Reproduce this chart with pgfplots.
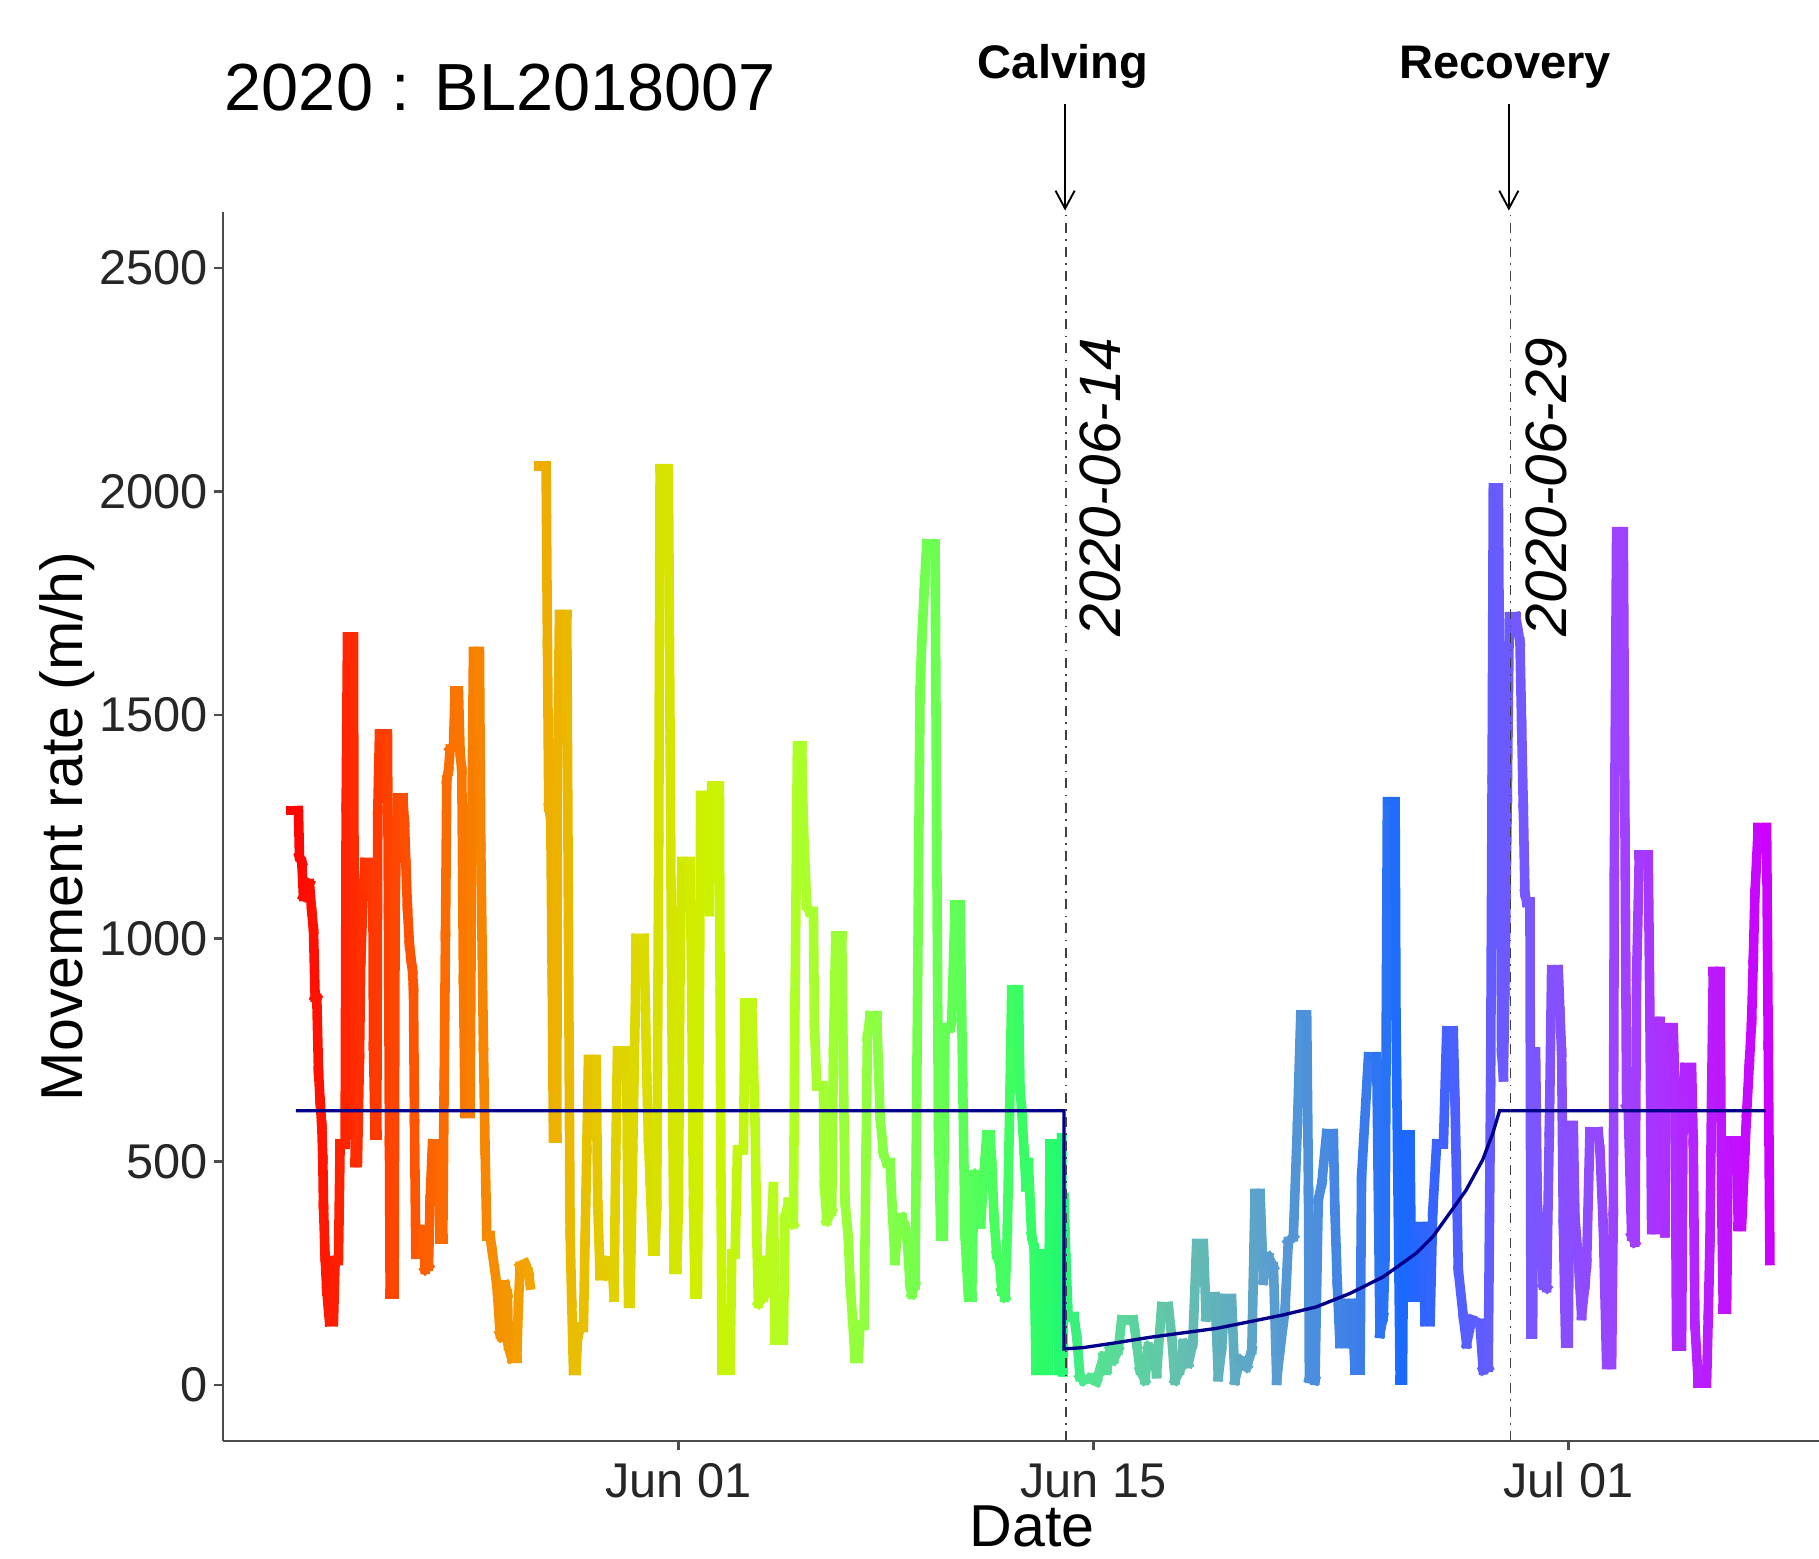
\documentclass[border=0pt]{standalone}
\usepackage{fontspec}
\setmainfont{Liberation Sans}
\usepackage{pgfplots}
\pgfplotsset{compat=1.18}
\usetikzlibrary{arrows.meta}
\pgfplotsset{colormap={rb}{
 rgb255(0pt)=(255,0,0); rgb255(3.1pt)=(255,60,0); rgb255(5.1pt)=(252,105,0);
 rgb255(8.1pt)=(242,165,0); rgb255(11.1pt)=(225,210,0); rgb255(14.1pt)=(205,242,0);
 rgb255(17.1pt)=(175,255,40); rgb255(20.1pt)=(135,255,70); rgb255(23.1pt)=(85,255,90);
 rgb255(26.0pt)=(35,250,110); rgb255(27.1pt)=(85,228,145); rgb255(30.1pt)=(100,192,175);
 rgb255(33.1pt)=(90,158,208); rgb255(36.1pt)=(60,125,235); rgb255(37.6pt)=(25,105,255);
 rgb255(39.6pt)=(85,95,255); rgb255(41.6pt)=(118,88,255); rgb255(45.1pt)=(160,65,255);
 rgb255(49.9pt)=(205,0,255)}}
\begin{document}
\begin{tikzpicture}
\begin{axis}[
  at={(0,0)}, anchor=south west,
  scale only axis, width=383.04pt, height=294.9pt,
  xmin=-15.35, xmax=38.45, ymin=-125, ymax=2625,
  axis lines*=left,
  axis line style={black!70, line width=0.6pt},
  tick style={black!70, line width=0.6pt},
  tick align=outside, major tick length=2.25pt,
  xtick={0,14,30}, xticklabels={Jun 01,Jun 15,Jul 01},
  ytick={0,500,1000,1500,2000,2500}, yticklabels={0,500,1000,1500,2000,2500},
  tick label style={font=\fontsize{11.7}{14}\selectfont, text=black!85},
  yticklabel style={anchor=east, inner sep=0pt, xshift=-1.2pt},
  xticklabel style={anchor=base, inner sep=0pt, yshift=-11.4pt},
  point meta min=-13.1, point meta max=36.8,
  colormap name=rb,
  clip=false,
]
\addplot[mesh, point meta=x, line width=2.3pt, line cap=rect] table {
-13.064 1286
-12.806 1286
-12.772 1183
-12.694 1170
-12.638 1094
-12.435 1122
-12.357 1060
-12.300 1019
-12.244 868
-12.188 866
-12.132 704
-12.076 635
-12.020 581
-11.986 505
-11.963 402
-11.907 286
-11.851 211
-11.761 142
-11.626 142
-11.570 279
-11.458 279
-11.402 540
-11.233 540
-11.199 1293
-11.154 1674
-10.952 1674
-10.930 1081
-10.896 498
-10.817 498
-10.750 731
-10.705 951
-10.615 1115
-10.559 1170
-10.301 1170
-10.278 759
-10.222 560
-10.166 560
-10.132 1286
-10.076 1457
-9.806 1457
-9.773 1067
-9.739 546
-9.716 204
-9.582 204
-9.548 1067
-9.514 1190
-9.469 1314
-9.289 1314
-9.233 1259
-9.188 1170
-9.132 1067
-9.065 985
-9.009 951
-8.964 930
-8.930 889
-8.896 594
-8.851 293
-8.649 293
-8.593 348
-8.537 259
-8.424 266
-8.368 416
-8.290 540
-8.087 540
-8.031 327
-7.941 327
-7.896 670
-7.851 1005
-7.806 1355
-7.750 1375
-7.694 1423
-7.582 1430
-7.526 1553
-7.413 1553
-7.357 1416
-7.301 1375
-7.245 909
-7.189 608
-7.020 608
-6.964 1238
-6.908 1642
-6.705 1642
-6.660 1204
-6.571 759
-6.514 526
-6.458 334
-6.346 334
-6.290 307
-6.121 224
-6.088 197
-6.009 115
-5.953 108
-5.897 183
-5.840 224
-5.762 204
-5.728 88
-5.672 74
-5.616 60
-5.447 60
-5.391 183
-5.335 266
-5.166 272
-5.054 252
-4.998 224
};
\addplot[mesh, point meta=x, line width=2.3pt, line cap=rect] table {
-4.717 2057
-4.459 2057
-4.414 1663
-4.369 1293
-4.301 1266
-4.256 923
-4.212 553
-4.099 553
-4.077 1327
-4.009 1725
-3.762 1725
-3.706 1033
-3.650 341
-3.594 183
-3.537 33
-3.447 33
-3.403 101
-3.313 129
-3.200 129
-3.144 327
-3.088 526
-3.032 729
-2.773 729
-2.717 402
-2.639 245
-2.526 245
-2.436 279
-2.245 279
-2.167 197
-2.111 512
-2.054 748
-1.796 748
-1.740 690
-1.684 183
-1.627 183
-1.538 526
-1.459 814
-1.425 1000
-1.156 1000
-1.111 848
-1.066 690
-1.010 553
-0.953 457
-0.863 300
-0.785 300
-0.729 402
-0.661 1225
-0.616 2051
-0.335 2051
-0.279 1444
-0.223 855
-0.144 259
-0.055 259
0.002 402
0.058 937
0.114 1172
0.395 1172
0.451 868
0.507 409
0.563 204
0.642 204
0.698 759
0.754 1320
1.013 1320
1.047 1060
1.125 1341
1.384 1341
1.406 882
1.440 416
1.473 33
1.743 33
1.799 293
1.912 293
1.990 526
2.193 526
2.249 855
2.473 855
2.530 718
2.586 588
2.642 334
2.698 183
2.867 197
2.923 279
3.035 211
3.203 444
3.260 101
3.540 101
3.597 375
3.709 409
3.765 375
3.877 361
3.934 875
4.012 1430
4.158 1430
4.215 1252
4.327 1074
4.417 1060
4.552 1060
4.585 807
4.664 670
4.889 670
4.922 450
5.001 368
5.169 389
5.226 745
5.304 1005
5.507 1005
5.563 704
5.619 409
5.731 327
5.787 231
5.877 142
5.956 60
6.068 60
6.124 135
6.259 135
6.327 526
6.372 779
6.462 827
6.686 827
6.742 718
6.799 601
6.911 519
7.023 498
7.136 498
7.225 375
7.304 279
7.417 375
7.529 375
7.641 355
7.720 320
7.810 224
7.866 204
7.978 224
8.034 649
8.091 1101
8.147 1553
8.203 1663
8.282 1773
8.371 1882
8.652 1882
8.709 1231
8.765 581
8.843 334
8.933 334
8.989 800
9.158 800
9.214 814
9.327 1074
9.495 1074
9.585 677
9.664 334
9.776 197
9.888 197
9.967 471
10.113 457
10.192 361
10.281 457
10.394 560
10.506 560
10.562 498
10.641 375
10.731 293
10.843 266
10.899 211
11.012 197
11.090 348
11.180 663
11.236 885
11.461 885
11.517 663
11.573 615
11.652 526
11.719 444
11.798 498
11.910 334
11.989 307
12.056 33
12.191 33
12.225 293
12.326 293
12.393 33
12.472 33
12.528 540
12.697 540
12.753 334
12.809 33
12.865 197
12.921 553
12.96 30
13.00 420
13.06 287
13.14 153
13.34 153
13.43 108
13.54 19
13.65 11
13.88 15
14.10 8
14.21 34
14.33 64
14.44 34
14.55 79
14.66 56
14.83 79
14.94 146
15.34 146
15.45 93
15.56 34
15.73 11
15.84 86
16.01 79
16.12 26
16.29 176
16.52 176
16.63 108
16.74 11
16.91 34
17.02 93
17.19 49
17.34 93
17.47 317
17.70 317
17.79 153
17.92 198
18.09 198
18.20 19
18.31 79
18.43 194
18.65 194
18.76 11
18.93 56
19.16 41
19.33 79
19.44 429
19.61 429
19.72 235
19.89 287
20.06 265
20.17 11
20.28 79
20.45 168
20.56 321
20.73 332
20.87 586
20.98 828
21.18 828
21.24 437
21.27 15
21.46 11
21.57 414
21.69 452
21.85 563
22.08 563
22.13 392
22.21 228
22.30 93
22.47 93
22.53 183
22.70 183
22.81 34
22.98 34
23.03 467
23.26 735
23.54 735
23.65 116
23.76 153
23.82 287
23.90 1306
24.16 1306
24.19 827
24.33 12
24.41 12
24.47 560
24.66 560
24.72 197
24.83 197
24.89 355
25.11 355
25.17 142
25.34 142
25.43 389
25.56 540
25.79 540
25.90 793
26.12 793
26.18 635
26.29 258
26.46 153
26.57 93
26.74 146
27.02 138
27.13 34
27.30 40
27.38 677
27.43 1355
27.47 2008
27.64 2008
27.70 1355
27.75 745
27.81 690
27.86 882
27.94 1307
28.01 1720
28.23 1720
28.30 1690
28.369 1663
28.425 1478
28.481 1293
28.538 1101
28.594 1081
28.706 1081
28.740 115
28.796 115
28.841 745
28.897 745
28.953 409
29.043 320
29.155 224
29.268 218
29.358 567
29.436 930
29.661 930
29.717 834
29.773 745
29.830 361
29.908 94
29.998 94
30.054 581
30.167 581
30.223 375
30.335 279
30.447 156
30.560 224
30.616 272
30.728 567
31.009 567
31.065 526
31.178 355
31.290 46
31.459 46
31.515 389
31.549 1149
31.627 1910
31.852 1910
31.908 1259
31.964 622
32.020 615
32.133 334
32.245 320
32.301 916
32.391 1186
32.694 1186
32.751 814
32.807 348
32.919 348
32.975 814
33.088 814
33.144 704
33.200 492
33.256 341
33.312 800
33.537 800
33.593 663
33.649 88
33.818 88
33.874 670
33.930 711
34.155 711
34.211 540
34.267 135
34.380 5
34.660 5
34.717 156
34.773 320
34.829 649
34.885 926
35.110 926
35.166 416
35.222 170
35.335 170
35.391 546
35.672 546
35.728 355
35.840 355
35.953 526
36.009 608
36.099 718
36.177 814
36.234 951
36.290 1101
36.402 1248
36.683 1248
36.739 759
36.795 279
};
\addplot[color={rgb,255:red,0;green,0;blue,139}, line width=0.8pt, no marks] table {
-12.89 614
13.00 614
13.00 81
13.65 84
14.77 95
15.89 107
17.01 117
18.14 127
19.26 142
20.38 157
21.50 175
22.63 205
23.75 242
24.87 295
25.43 332
25.99 384
26.55 436
27.11 504
27.45 563
27.68 614
36.65 614
};
\draw[black!75, line width=0.45pt, dash pattern=on 2.4pt off 1.5pt on 0.4pt off 1.5pt]
  (axis cs:13.06,-125) -- (axis cs:13.06,2625);
\draw[black!75, line width=0.45pt, dash pattern=on 2.4pt off 1.5pt on 0.4pt off 1.5pt]
  (axis cs:28.05,-125) -- (axis cs:28.05,2625);
\node[rotate=90, anchor=base west, inner sep=0pt, font=\itshape\fontsize{14}{17}\selectfont]
  at (axis cs:14.92,1674) {2020-06-14};
\node[rotate=90, anchor=base west, inner sep=0pt, font=\itshape\fontsize{14}{17}\selectfont]
  at (axis cs:29.93,1674) {2020-06-29};
\end{axis}
\draw[line width=0.45pt, -{Straight Barb[length=4.3pt,width=4.6pt]}]
  (202.1pt,320.9pt) -- (202.1pt,295.3pt);
\draw[line width=0.45pt, -{Straight Barb[length=4.3pt,width=4.6pt]}]
  (308.6pt,320.9pt) -- (308.6pt,295.3pt);
\node[anchor=base west, inner sep=0pt, font=\fontsize{16.0}{19}\selectfont] at (0.24pt,319.4pt) {2020 : BL2018007};
\node[anchor=base, inner sep=0pt, font=\bfseries\fontsize{11.3}{13}\selectfont] at (201.6pt,327.1pt) {Calving};
\node[anchor=base, inner sep=0pt, font=\bfseries\fontsize{11.3}{13}\selectfont] at (307.7pt,327.1pt) {Recovery};
\node[rotate=90, anchor=base, inner sep=0pt, font=\fontsize{14.2}{17}\selectfont] at (-33.6pt,147.45pt) {Movement rate (m/h)};
\node[anchor=base, inner sep=0pt, font=\fontsize{14.2}{17}\selectfont] at (194.2pt,-25.4pt) {Date};
\pgfresetboundingbox
\useasboundingbox (-53.52pt,-28.32pt) rectangle (383.04pt,345.84pt);
\end{tikzpicture}
\end{document}
